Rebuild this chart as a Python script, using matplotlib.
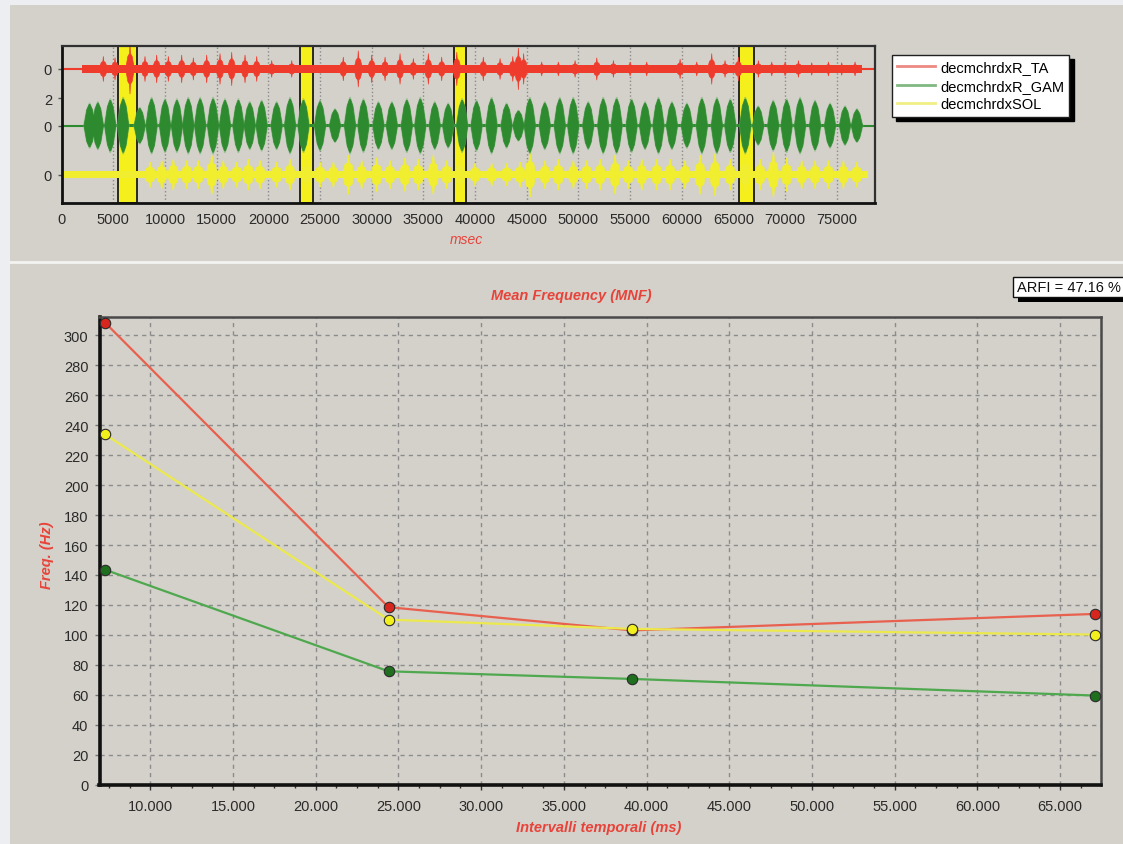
import numpy as np
import matplotlib
matplotlib.use("Agg")
import matplotlib.pyplot as plt
from matplotlib.collections import PolyCollection
from matplotlib.lines import Line2D
from matplotlib.patches import Rectangle
from matplotlib.ticker import MultipleLocator, FuncFormatter

plt.rcParams['font.family'] = ['Liberation Sans', 'DejaVu Sans']

# ---- top panel: EMG bursts (time in ms, half-amplitude in trace units)
green_t = [2700, 3500, 4700, 5950, 7550, 8700, 10000, 11150, 12250, 13400, 14650, 15800, 17100, 18200,
           19350, 20800, 22100, 23400, 25000, 26450, 27900, 29200, 30650, 31950, 33400, 34700, 36100, 37400, 38750,
           40150, 41600, 43050, 44200, 45300, 46750, 48200, 49500, 50950, 52400, 53700, 55150, 56450, 57750,
           59050, 60500, 61950, 63400, 64700, 66150, 67400, 68850, 70150, 71450, 72900, 74350, 75800, 76950]
green_a = [1.6, 1.7, 1.9, 2.0, 1.3, 2.0, 1.9, 1.9, 2.0, 2.0, 2.0, 1.9, 1.9, 1.7,
           1.8, 1.7, 2.0, 1.9, 1.8, 1.2, 2.0, 1.9, 1.7, 1.7, 1.9, 2.0, 1.7, 1.6, 1.9,
           1.8, 2.0, 1.6, 1.1, 2.0, 1.7, 2.0, 2.0, 1.7, 2.0, 2.0, 1.9, 1.7, 2.0,
           1.7, 1.6, 2.0, 2.0, 1.9, 2.0, 1.4, 1.8, 1.9, 2.0, 1.8, 1.6, 1.4, 1.2]

red_t = [4030, 5160, 6610, 8060, 9190, 10320, 11610, 12740, 14030, 15320, 16450, 17740, 18870,
         20320, 22260, 27250, 28700, 30000, 31290, 32740, 34030, 35480, 36770, 38230,
         40800, 42420, 43650, 44190, 44700, 46450, 48060, 49680, 51780, 53390, 55000, 56610,
         59840, 61450, 62900, 64190, 65480, 67420, 68710, 70000, 71290, 72580, 74190, 75480, 76770]
red_a = [0.9, 0.8, 1.8, 0.9, 1.0, 0.9, 1.0, 0.8, 1.0, 1.1, 1.2, 1.0, 0.9,
         0.6, 0.6, 0.85, 1.3, 1.0, 0.85, 1.1, 0.75, 1.1, 0.85, 1.2,
         0.85, 0.75, 0.9, 1.5, 1.1, 0.5, 0.5, 0.6, 0.8, 0.6, 0.5, 0.5,
         0.7, 0.5, 1.1, 0.6, 0.85, 0.6, 0.5, 0.5, 0.6, 0.45, 0.5, 0.45, 0.5]

yellow_t = [8550, 9680, 10800, 12100, 13220, 14520, 15640, 16940, 18060, 19190,
            20800, 22090, 23700, 25000, 26290, 27740, 29030, 30480, 31770, 33220, 34510, 35960, 37260, 38540,
            40000, 41610, 43070, 44350, 45320, 46770, 48060, 49510, 50800, 52100, 53550, 54830, 56130, 57580,
            58870, 60320, 61770, 63220, 64680, 66130, 67580, 68870, 70160, 71610, 72900, 74190, 75640, 76940]
yellow_a = [0.9, 1.0, 1.1, 1.0, 1.0, 1.4, 1.0, 0.9, 1.1, 1.0,
            0.9, 1.1, 1.0, 0.9, 0.9, 1.4, 1.0, 1.2, 1.0, 1.2, 1.1, 1.4, 1.0, 1.1,
            0.8, 0.8, 0.8, 0.9, 1.6, 1.0, 1.1, 1.0, 1.0, 1.1, 1.4, 1.0, 1.1, 1.1,
            1.1, 1.0, 1.4, 1.5, 1.1, 1.2, 1.1, 1.6, 1.2, 1.0, 1.0, 1.0, 1.0, 0.9]

red_span = (2000, 77400)
yellow_span = (0, 78000)
red_noise = 0.3
yellow_noise = 0.26
green_noise = 0.1

bands = [(5450, 7330), (23050, 24350), (37950, 39130), (65550, 67020)]
channels = ["decmchrdxR_TA", "decmchrdxR_GAM", "decmchrdxSOL"]

# ---- bottom panel: mean frequency per interval
interval_ms = [7270, 24400, 39130, 67110]
mnf_ta = [308.4, 118.5, 103.0, 114.0]
mnf_gam = [143.5, 75.7, 70.6, 59.5]
mnf_sol = [233.8, 110.2, 104.0, 100.2]
arfi = 47.16

W, H = 1123, 845
BG = '#d4d1ca'
RED, GREEN, YELLOW = '#ef3b2c', '#2e8a2e', '#f0ee2e'
LABEL_RED = '#e8433a'


def fx(x):
    return x / W


def fy(y):
    return 1 - y / H


def bursts(t, a, base, w, profile, **kw):
    verts = []
    for c, amp in zip(t, a):
        upper = [(c + px * w, base + py * amp) for px, py in profile]
        lower = [(c + px * w, base - py * amp) for px, py in reversed(profile[1:-1])]
        verts.append(upper + lower)
    return PolyCollection(verts, **kw)


fig = plt.figure(figsize=(W / 100, H / 100), dpi=100)
fig.patch.set_facecolor('#eceef1')
fig.patches.append(Rectangle((fx(10), 0), 1, fy(6), transform=fig.transFigure,
                             facecolor=BG, edgecolor='none', zorder=-10))
fig.lines.append(Line2D([fx(10), 1], [fy(263), fy(263)], transform=fig.transFigure,
                        color='#f3f3f1', lw=2))

# ================= top panel =================
ax1 = fig.add_axes([fx(61.7), fy(204.3), fx(875 - 61.7), (204.3 - 46.7) / H])
ax1.set_facecolor(BG)
red_base, green_base, yellow_base = 4.1, 0.0, -3.54
ax1.set_xlim(0, 78700)
ax1.set_ylim(-5.61, 5.78)

for x0, x1 in bands:
    ax1.axvspan(x0, x1, facecolor='#f5ef1c', edgecolor='#1a1a1a', lw=1.3, zorder=1)

# yellow trace
ax1.fill_between(yellow_span, yellow_base - yellow_noise, yellow_base + yellow_noise,
                 color=YELLOW, lw=0, zorder=2)
ax1.add_collection(bursts(yellow_t, yellow_a, yellow_base, 520,
                          [(-1, 0), (-0.7, 0.5), (-0.2, 0.6), (-0.06, 1), (0.06, 1), (0.2, 0.6), (0.7, 0.5), (1, 0)],
                          facecolor=YELLOW, edgecolor=YELLOW, lw=0.5, zorder=2))
# green trace
ax1.hlines(green_base, 0, 78700, color=GREEN, lw=1.5, zorder=3)
ax1.fill_between([2300, 77500], green_base - green_noise, green_base + green_noise,
                 color=GREEN, lw=0, zorder=3)
ax1.add_collection(bursts(green_t, green_a, green_base, 640,
                          [(-1, 0), (-0.55, 0.7), (-0.1, 1.04), (0.1, 1.04), (0.55, 0.7), (1, 0)],
                          facecolor='#6cb46c', edgecolor='none', alpha=0.55, zorder=3))
ax1.add_collection(bursts(green_t, green_a, green_base, 540,
                          [(-1, 0), (-0.5, 0.72), (-0.08, 0.96), (0.08, 0.96), (0.5, 0.72), (1, 0)],
                          facecolor=GREEN, edgecolor=GREEN, lw=0.5, zorder=3))
# red trace
ax1.hlines(red_base, 0, 78700, color=RED, lw=1.5, zorder=4)
ax1.fill_between(red_span, red_base - red_noise, red_base + red_noise, color=RED, lw=0, zorder=4)
ax1.add_collection(bursts(red_t, red_a, red_base, 420,
                          [(-1, 0), (-0.5, 0.5), (-0.1, 0.62), (0, 1), (0.1, 0.62), (0.5, 0.5), (1, 0)],
                          facecolor=RED, edgecolor=RED, lw=0.5, zorder=4))

ax1.set_xticks(np.arange(0, 75001, 5000))
ax1.set_xticklabels([str(v) for v in range(0, 75001, 5000)])
ax1.set_yticks([red_base, green_base + 2, green_base, yellow_base])
ax1.set_yticklabels(['0', '2', '0', '0'])
ax1.tick_params(axis='x', length=0, pad=6, labelsize=10.5, labelcolor='#2a2a2a')
ax1.tick_params(axis='y', length=3, width=1, color='#555555', pad=4, labelsize=10.5, labelcolor='#2a2a2a')
ax1.grid(axis='x', linestyle=':', color='#8a8a8a', lw=1, zorder=0)
ax1.set_axisbelow(True)
for side, sp in ax1.spines.items():
    sp.set_color('#303030' if side in ('top', 'right') else '#111111')
    sp.set_linewidth(1.6 if side in ('top', 'right') else 2.0)
    sp.set_zorder(6)

handles = [Line2D([], [], color=c, lw=2, alpha=0.6) for c in ('#e23a30', '#2e8a2e', '#e8e430')]
ax1.legend(handles, channels, loc='upper left', bbox_to_anchor=(fx(892), fy(56)),
           bbox_transform=fig.transFigure, borderaxespad=0, fontsize=10.5, frameon=True,
           fancybox=False, edgecolor='#202020', facecolor='white', framealpha=1,
           handlelength=2.6, handletextpad=0.35, labelspacing=0.32, borderpad=0.35,
           shadow={'ox': 3.2, 'oy': -3.2, 'facecolor': 'black', 'edgecolor': 'black', 'alpha': 1})

fig.text(fx(466), fy(240), 'msec', color=LABEL_RED, style='italic', fontsize=10,
         ha='center', va='center')

# ================= bottom panel =================
ax2 = fig.add_axes([fx(99.5), fy(785.7), fx(1101 - 99.5), (785.7 - 318.3) / H])
ax2.set_facecolor(BG)
ax2.set_xlim(6930, 67470)
ax2.set_ylim(0, 312)

ax2.plot(interval_ms, mnf_gam, color='#4ea84e', lw=1.6, marker='o', ms=7.5,
         mfc='#1f6f1f', mec='#2b2b2b', mew=0.8, zorder=3, clip_on=False)
ax2.plot(interval_ms, mnf_ta, color='#e8604e', lw=1.6, marker='o', ms=7.5,
         mfc='#d6261e', mec='#2b2b2b', mew=0.8, zorder=4, clip_on=False)
ax2.plot(interval_ms, mnf_sol, color='#ebe94e', lw=1.6, marker='o', ms=7.5,
         mfc='#f2ef1e', mec='#2b2b2b', mew=0.8, zorder=5, clip_on=False)

ax2.xaxis.set_major_locator(MultipleLocator(5000))
ax2.xaxis.set_minor_locator(MultipleLocator(1250))
ax2.xaxis.set_major_formatter(FuncFormatter(lambda v, p: f"{int(v):,}".replace(',', '.')))
ax2.yaxis.set_major_locator(MultipleLocator(20))
ax2.tick_params(axis='x', which='major', length=3.5, width=1, color='#333333', pad=7,
                labelsize=10.5, labelcolor='#2a2a2a')
ax2.tick_params(axis='x', which='minor', length=2.5, width=1, color='#333333')
ax2.tick_params(axis='y', length=3.6, width=1, color='#777777', pad=4.4,
                labelsize=10.5, labelcolor='#2a2a2a')
ax2.grid(True, which='major', linestyle=(0, (3, 3)), color='#8c8c8c', lw=1)
ax2.set_axisbelow(True)
for side, sp in ax2.spines.items():
    sp.set_color('#4a4a4a' if side in ('top', 'right') else '#111111')
    sp.set_linewidth(1.8 if side in ('top', 'right') else 2.6)

fig.text(fx(571), fy(296), 'Mean Frequency (MNF)', color=LABEL_RED, style='italic',
         fontsize=10.5, fontweight='bold', ha='center', va='center')
fig.text(fx(47), fy(555), 'Freq. (Hz)', color=LABEL_RED, style='italic', fontsize=10.5,
         fontweight='bold', rotation=90, ha='center', va='center')
fig.text(fx(599), fy(828), 'Intervalli temporali (ms)', color=LABEL_RED, style='italic',
         fontsize=10.5, fontweight='bold', ha='center', va='center')

# ARFI box
fig.patches.append(Rectangle((fx(1017.5), fy(302.5)), fx(130), 20 / H, transform=fig.transFigure,
                             facecolor='black', edgecolor='none', zorder=5))
fig.patches.append(Rectangle((fx(1013), fy(298.3)), fx(130), 20 / H, transform=fig.transFigure,
                             facecolor='white', edgecolor='#111111', lw=1, zorder=6))
fig.text(fx(1017), fy(288.5), f'ARFI = {arfi:.2f} %', fontsize=10.5, color='#111111',
         ha='left', va='center', zorder=7)

fig.savefig('out.png', dpi=100, facecolor=fig.get_facecolor())
